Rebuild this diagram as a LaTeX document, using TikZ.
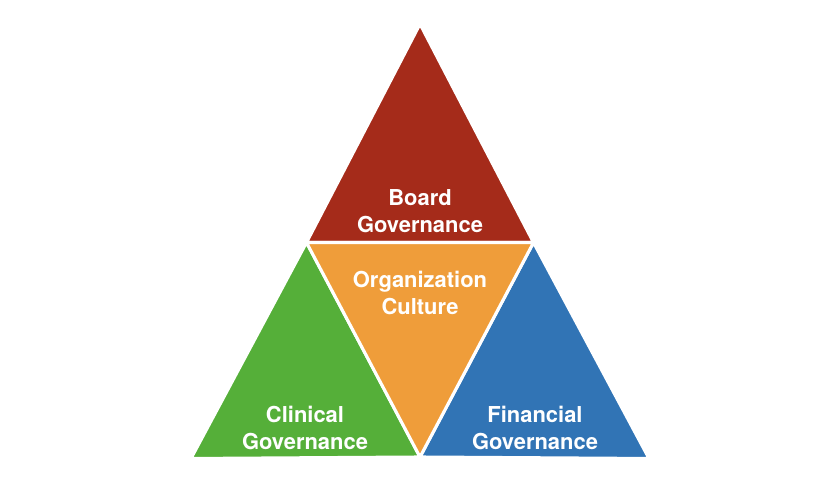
\documentclass[tikz,border=0pt]{standalone}
\usepackage{fontspec}
\setmainfont{TeX Gyre Heros}
\usepackage{tikz}
\usetikzlibrary{positioning}

\definecolor{boardred}{HTML}{A52B1A}
\definecolor{clingreen}{HTML}{55AF39}
\definecolor{cultorange}{HTML}{EF9D3A}
\definecolor{finblue}{HTML}{3174B5}

\tikzset{
  piece/.style={draw=white, line width=2.2pt, line join=miter},
  lbl/.style={text=white, font=\fontsize{15.6}{19.5}\selectfont\bfseries, align=center}
}

\begin{document}
\begin{tikzpicture}[x=0.025cm, y=-0.025cm]
    \useasboundingbox (0,0) rectangle (840,480);

    % Corners of the big triangle and midpoints of its sides
    \coordinate (top) at (420,24);
    \coordinate (botleft) at (191,458.5);
    \coordinate (botright) at (649,458.5);
    \coordinate (midleft) at (306.5,242.5);
    \coordinate (midright) at (533.5,242.5);
    \coordinate (midbot) at (420,457);

    % The four pieces
    \filldraw[piece, fill=boardred] (top) -- (midleft) -- (midright) -- cycle;
    \filldraw[piece, fill=clingreen] (midleft) -- (botleft) -- (midbot) -- cycle;
    \filldraw[piece, fill=finblue] (midright) -- (midbot) -- (botright) -- cycle;
    \filldraw[piece, fill=cultorange] (midleft) -- (midright) -- (midbot) -- cycle;

    % Labels
    \node[lbl] (board) at (420,211) {Board\\Governance};
    \node[lbl] (culture) at (420,293) {Organization\\Culture};
    \node[lbl] (clinical) at (305,428) {Clinical\\Governance};
    \node[lbl] (financial) at (535,428) {Financial\\Governance};
\end{tikzpicture}
\end{document}
